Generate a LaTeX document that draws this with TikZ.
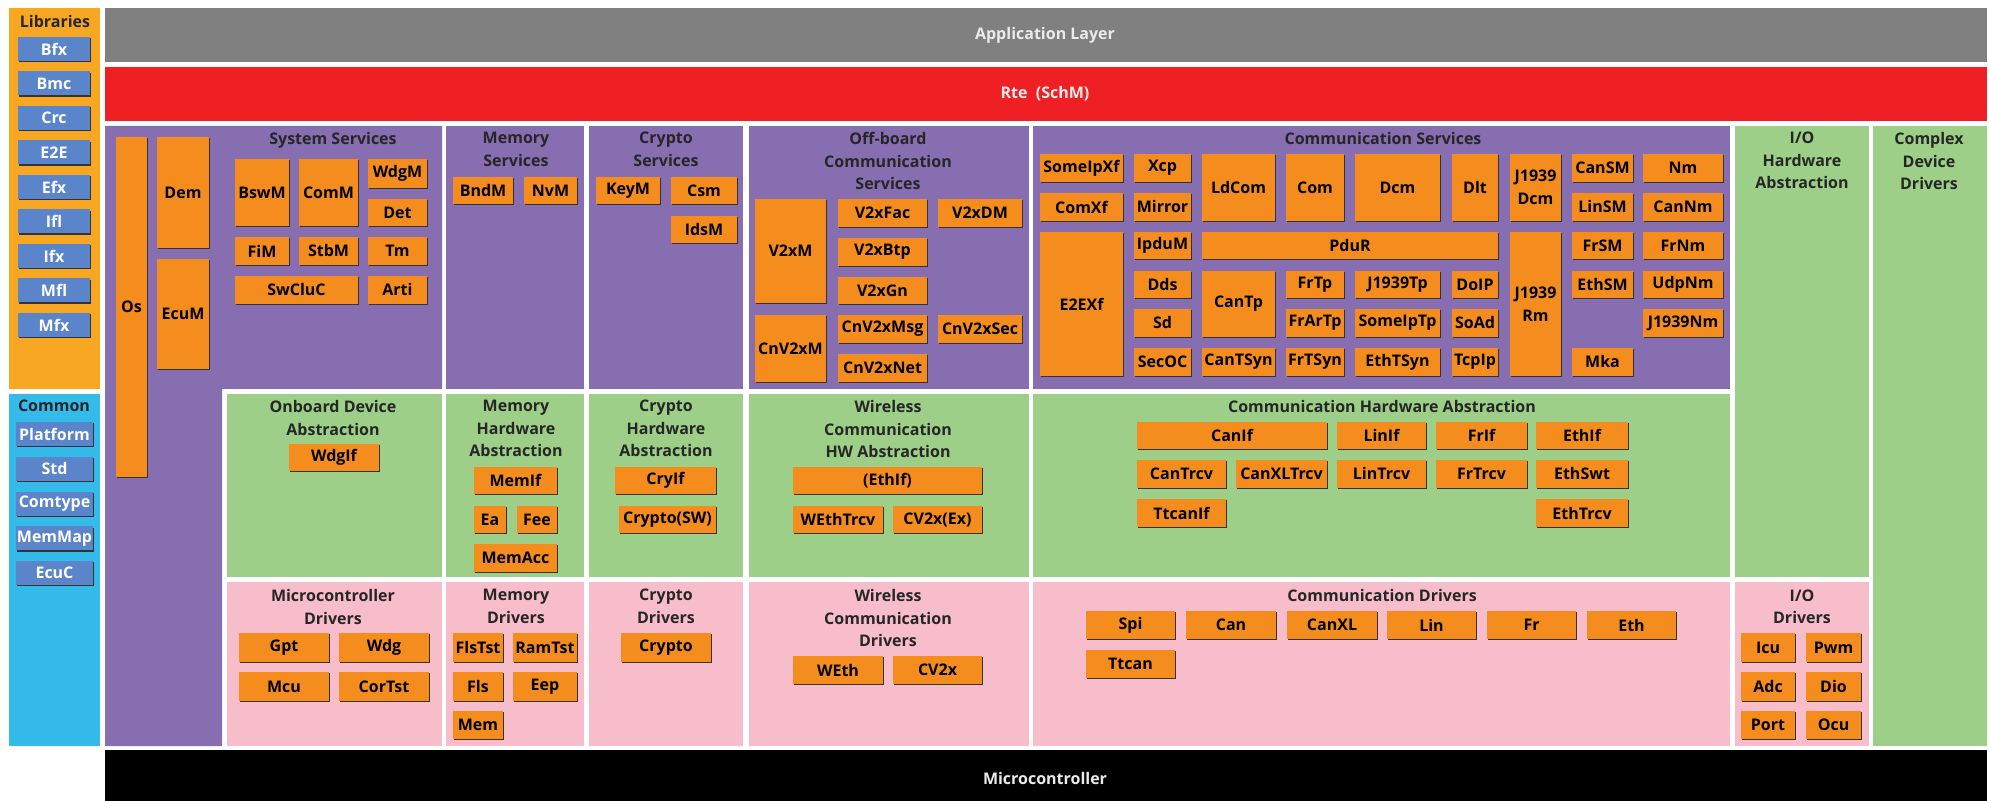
\documentclass[tikz,border=0pt]{standalone}
\usepackage{fontspec}
\setmainfont{Open Sans}
\usetikzlibrary{shadows}
\definecolor{liborange}{HTML}{F8A722}
\definecolor{commoncyan}{HTML}{35BBEA}
\definecolor{libblue}{HTML}{5B85CB}
\definecolor{appgray}{HTML}{808080}
\definecolor{rtered}{HTML}{EE2024}
\definecolor{svcpurple}{HTML}{866EB0}
\definecolor{hwgreen}{HTML}{9DCF88}
\definecolor{drvpink}{HTML}{F8BDCB}
\definecolor{modorange}{HTML}{F48C1E}
\newcommand{\lbl}{\fontsize{8}{11.25}\selectfont\bfseries}
% \blk[style]{name}{x1}{y1}{x2}{y2}{text}, corners in pixels
\newcommand{\blk}[7][modbox]{%
  \node[#1,minimum width={(#5-#3)*0.5pt},minimum height={(#6-#4)*0.5pt}] (#2) at (#3,#4) {#7};}
\begin{document}
\begin{tikzpicture}[x=0.5pt,y=-0.5pt,
  modbox/.style={anchor=north west,fill=modorange,inner sep=0pt,outer sep=0pt,align=center,font=\lbl,
    drop shadow={shadow xshift=0.7pt,shadow yshift=-0.7pt,fill=black!80,opacity=1}},
  libbox/.style={modbox,fill=libblue,text=white},
  ttl/.style={anchor=north,inner sep=0pt,align=center,font=\lbl,text=black!85},
  band/.style={inner sep=0pt,font=\lbl,text=white!92!black}]
\useasboundingbox (0,0) rectangle (1989,801);
\fill[white] (0,0) rectangle (1989,801);
% layers
\fill[liborange] (9,8) rectangle (100,389);
\fill[commoncyan] (9,394) rectangle (100,746);
\fill[appgray] (105,8) rectangle (1987,62);
\fill[rtered] (105,67) rectangle (1987,121);
\fill[black] (105,750) rectangle (1987,801);
\fill[svcpurple] (105,126) -- (442,126) -- (442,389) -- (222,389) -- (222,746) -- (105,746) -- cycle;
\fill[svcpurple] (446,126) rectangle (584,389);
\fill[svcpurple] (589,126) rectangle (743,389);
\fill[svcpurple] (749,126) rectangle (1029,389);
\fill[svcpurple] (1033,126) rectangle (1730,389);
\fill[hwgreen] (227,394) rectangle (442,577);
\fill[hwgreen] (446,394) rectangle (584,577);
\fill[hwgreen] (589,394) rectangle (743,577);
\fill[hwgreen] (749,394) rectangle (1029,577);
\fill[hwgreen] (1033,394) rectangle (1730,577);
\fill[hwgreen] (1735,126) rectangle (1869,577);
\fill[hwgreen] (1873,126) rectangle (1987,746);
\fill[drvpink] (227,582) rectangle (442,746);
\fill[drvpink] (446,582) rectangle (584,746);
\fill[drvpink] (589,582) rectangle (743,746);
\fill[drvpink] (749,582) rectangle (1029,746);
\fill[drvpink] (1033,582) rectangle (1730,746);
\fill[drvpink] (1735,582) rectangle (1869,746);
\node[band] (app) at (1045,35) {Application Layer};
\node[band] (rte) at (1045,94) {Rte\ \ (SchM)};
\node[band] (mcal) at (1045,778) {Microcontroller};
% titles
\node[ttl] (libs) at (55,15) {Libraries};
\node[ttl] (common) at (54,400) {Common};
\node[ttl] (syssvc) at (333,132) {System Services};
\node[ttl] (memsvc) at (516,132) {Memory\\Services};
\node[ttl] (crysvc) at (666,132) {Crypto\\Services};
\node[ttl] (offsvc) at (888,132) {Off-board\\Communication\\Services};
\node[ttl] (comsvc) at (1383,132) {Communication Services};
\node[ttl] (iohwa) at (1802,132) {I/O\\Hardware\\Abstraction};
\node[ttl] (cdd) at (1929,132) {Complex\\Device\\Drivers};
\node[ttl] (onbhwa) at (333,400) {Onboard Device\\Abstraction};
\node[ttl] (memhwa) at (516,400) {Memory\\Hardware\\Abstraction};
\node[ttl] (cryhwa) at (666,400) {Crypto\\Hardware\\Abstraction};
\node[ttl] (wlhwa) at (888,400) {Wireless\\Communication\\HW Abstraction};
\node[ttl] (comhwa) at (1382,400) {Communication Hardware Abstraction};
\node[ttl] (mcudrv) at (333,589) {Microcontroller\\Drivers};
\node[ttl] (memdrv) at (516,589) {Memory\\Drivers};
\node[ttl] (crydrv) at (666,589) {Crypto\\Drivers};
\node[ttl] (wldrv) at (888,589) {Wireless\\Communication\\Drivers};
\node[ttl] (comdrv) at (1382,589) {Communication Drivers};
\node[ttl] (iodrv) at (1802,589) {I/O\\Drivers};
% libraries and common
\foreach \lib [count=\i from 0] in {Bfx,Bmc,Crc,E2E,Efx,Ifl,Ifx,Mfl,Mfx}
  \node[libbox,minimum width=36pt,minimum height=12pt] (lib\lib) at (18,{37+34.5*\i}) {\lib};
\foreach \cmn [count=\i from 0] in {Platform,Std,Comtype,MemMap,EcuC}
  \node[libbox,minimum width=38.5pt,minimum height=12pt] (cmn\cmn) at (16,{422+34.75*\i}) {\cmn};
% system services
\blk{os}{116}{137}{147}{477}{Os}
\blk{dem}{157}{137}{209}{248}{Dem}
\blk{ecum}{157}{259}{209}{369}{EcuM}
\blk{bswm}{235}{159}{289}{226}{BswM}
\blk{comm}{299}{159}{358}{226}{ComM}
\blk{wdgm}{368}{159}{427}{188}{WdgM}
\blk{det}{368}{199}{427}{226}{Det}
\blk{fim}{235}{237}{289}{265}{FiM}
\blk{stbm}{299}{237}{358}{265}{StbM}
\blk{tm}{368}{237}{427}{265}{Tm}
\blk{swcluc}{235}{276}{358}{304}{SwCluC}
\blk{arti}{368}{276}{427}{304}{Arti}
% memory and crypto services
\blk{bndm}{453}{177}{513}{204}{BndM}
\blk{nvm}{524}{177}{577}{204}{NvM}
\blk{keym}{596}{177}{660}{204}{KeyM}
\blk{csm}{671}{177}{737}{204}{Csm}
\blk{idsm}{671}{216}{737}{243}{IdsM}
% off-board communication services
\blk{v2xm}{755}{199}{826}{303}{V2xM}
\blk{v2xfac}{838}{199}{927}{227}{V2xFac}
\blk{v2xdm}{938}{199}{1022}{227}{V2xDM}
\blk{v2xbtp}{838}{238}{927}{266}{V2xBtp}
\blk{v2xgn}{838}{277}{927}{304}{V2xGn}
\blk{cnv2xm}{755}{315}{826}{382}{CnV2xM}
\blk{cnv2xmsg}{838}{315}{927}{343}{CnV2xMsg}
\blk{cnv2xsec}{938}{315}{1022}{343}{CnV2xSec}
\blk{cnv2xnet}{838}{354}{927}{382}{CnV2xNet}
% communication services
\blk{someipxf}{1040}{154}{1123}{182}{SomeIpXf}
\blk{comxf}{1040}{193}{1123}{221}{ComXf}
\blk{e2exf}{1040}{232}{1123}{376}{E2EXf}
\blk{xcp}{1134}{154}{1191}{182}{Xcp}
\blk{mirror}{1134}{193}{1191}{221}{Mirror}
\blk{ipdum}{1134}{232}{1191}{259}{IpduM}
\blk{dds}{1134}{271}{1191}{298}{Dds}
\blk{sd}{1134}{309}{1191}{337}{Sd}
\blk{secoc}{1134}{348}{1191}{376}{SecOC}
\blk{ldcom}{1202}{154}{1275}{221}{LdCom}
\blk{com}{1286}{154}{1344}{221}{Com}
\blk{dcm}{1355}{154}{1440}{221}{Dcm}
\blk{dlt}{1452}{154}{1498}{221}{Dlt}
\blk{jdcm}{1510}{154}{1561}{221}{J1939\\Dcm}
\blk{pdur}{1202}{232}{1498}{259}{PduR}
\blk{cantp}{1202}{271}{1275}{337}{CanTp}
\blk{cantsyn}{1202}{348}{1275}{376}{CanTSyn}
\blk{frtp}{1286}{271}{1344}{298}{FrTp}
\blk{frartp}{1286}{309}{1344}{337}{FrArTp}
\blk{frtsyn}{1286}{348}{1344}{376}{FrTSyn}
\blk{jtp}{1355}{271}{1440}{298}{J1939Tp}
\blk{someiptp}{1355}{309}{1440}{337}{SomeIpTp}
\blk{ethtsyn}{1355}{348}{1440}{376}{EthTSyn}
\blk{doip}{1452}{271}{1498}{298}{DoIP}
\blk{soad}{1452}{309}{1498}{337}{SoAd}
\blk{tcpip}{1452}{348}{1498}{376}{TcpIp}
\blk{jrm}{1510}{232}{1561}{376}{J1939\\Rm}
\blk{cansm}{1572}{154}{1633}{182}{CanSM}
\blk{linsm}{1572}{193}{1633}{221}{LinSM}
\blk{frsm}{1572}{232}{1633}{259}{FrSM}
\blk{ethsm}{1572}{271}{1633}{298}{EthSM}
\blk{mka}{1572}{348}{1633}{376}{Mka}
\blk{nm}{1643}{154}{1723}{182}{Nm}
\blk{cannm}{1643}{193}{1723}{221}{CanNm}
\blk{frnm}{1643}{232}{1723}{259}{FrNm}
\blk{udpnm}{1643}{271}{1723}{298}{UdpNm}
\blk{jnm}{1643}{309}{1723}{337}{J1939Nm}
% hardware abstraction
\blk{wdgif}{289}{444}{379}{471}{WdgIf}
\blk{memif}{474}{467}{557}{494}{MemIf}
\blk{ea}{474}{506}{506}{533}{Ea}
\blk{fee}{517}{506}{557}{533}{Fee}
\blk{memacc}{474}{544}{557}{572}{MemAcc}
\blk{cryif}{615}{467}{716}{494}{CryIf}
\blk{cryptosw}{619}{506}{716}{533}{Crypto(SW)}
\blk{wethif}{793}{467}{982}{494}{(EthIf)}
\blk{wethtrcv}{793}{506}{883}{533}{WEthTrcv}
\blk{cv2xex}{893}{506}{982}{533}{CV2x(Ex)}
\blk{canif}{1137}{422}{1327}{449}{CanIf}
\blk{linif}{1337}{422}{1426}{449}{LinIf}
\blk{frif}{1436}{422}{1527}{449}{FrIf}
\blk{ethif}{1536}{422}{1628}{449}{EthIf}
\blk{cantrcv}{1137}{460}{1226}{488}{CanTrcv}
\blk{canxltrcv}{1236}{460}{1327}{488}{CanXLTrcv}
\blk{lintrcv}{1337}{460}{1426}{488}{LinTrcv}
\blk{frtrcv}{1436}{460}{1527}{488}{FrTrcv}
\blk{ethswt}{1536}{460}{1628}{488}{EthSwt}
\blk{ttcanif}{1137}{499}{1226}{527}{TtcanIf}
\blk{ethtrcv}{1536}{499}{1628}{527}{EthTrcv}
% drivers
\blk{gpt}{239}{633}{329}{662}{Gpt}
\blk{wdg}{339}{633}{429}{662}{Wdg}
\blk{mcu}{239}{672}{329}{701}{Mcu}
\blk{cortst}{339}{672}{429}{701}{CorTst}
\blk{flstst}{453}{633}{503}{662}{FlsTst}
\blk{ramtst}{513}{633}{577}{662}{RamTst}
\blk{fls}{453}{672}{503}{701}{Fls}
\blk{eep}{513}{672}{577}{701}{Eep}
\blk{mem}{453}{711}{503}{739}{Mem}
\blk{crypto}{621}{633}{711}{662}{Crypto}
\blk{weth}{793}{656}{883}{684}{WEth}
\blk{cv2x}{893}{656}{982}{684}{CV2x}
\blk{spi}{1086}{611}{1175}{639}{Spi}
\blk{can}{1186}{611}{1276}{639}{Can}
\blk{canxl}{1287}{611}{1377}{639}{CanXL}
\blk{lin}{1387}{611}{1476}{639}{Lin}
\blk{fr}{1487}{611}{1576}{639}{Fr}
\blk{eth}{1587}{611}{1676}{639}{Eth}
\blk{ttcan}{1086}{650}{1175}{678}{Ttcan}
\blk{icu}{1741}{633}{1795}{662}{Icu}
\blk{pwm}{1806}{633}{1861}{662}{Pwm}
\blk{adc}{1741}{672}{1795}{701}{Adc}
\blk{dio}{1806}{672}{1861}{701}{Dio}
\blk{port}{1741}{711}{1795}{739}{Port}
\blk{ocu}{1806}{711}{1861}{739}{Ocu}
\end{tikzpicture}
\end{document}
